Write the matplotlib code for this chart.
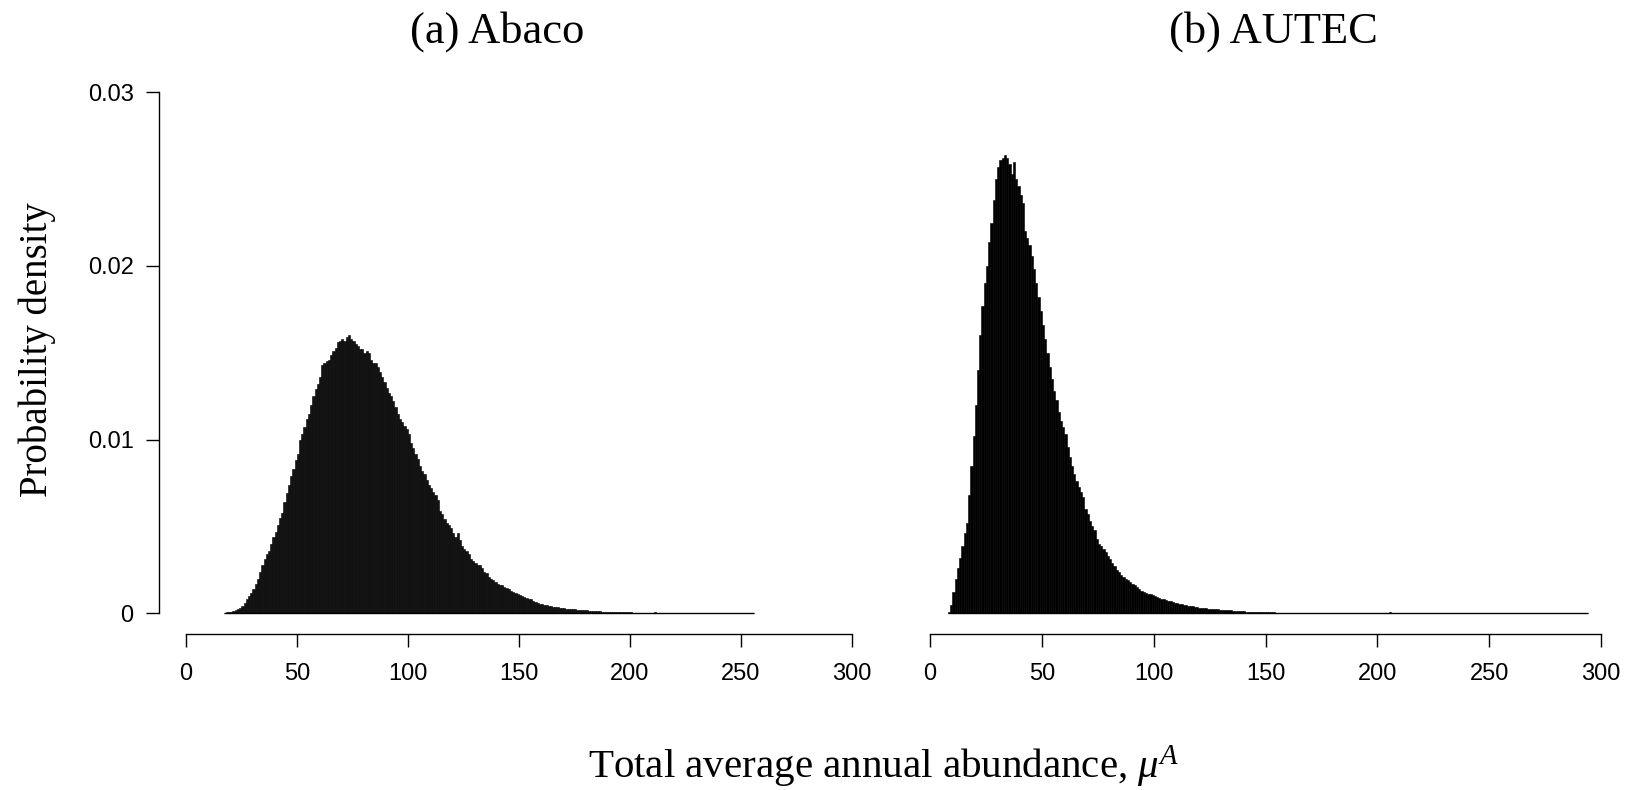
import matplotlib
matplotlib.use("Agg")
import matplotlib.pyplot as plt
import numpy as np

plt.rcParams['mathtext.fontset'] = 'custom'
plt.rcParams['mathtext.rm'] = 'Liberation Serif'
plt.rcParams['mathtext.it'] = 'Liberation Serif:italic'

# histogram bins are 1 unit wide, densities given in units of 1e-4
abaco_start = 17
abaco_dens = [
    0.3, 0.5, 0.8, 1.0, 1.3, 1.7, 2.2, 3.0, 4.2, 6,          # 17
    8, 10, 11.5, 14, 17, 20, 24, 28, 31, 34,                # 27
    36, 40, 44, 47, 51, 55, 58, 64, 69, 74,                 # 37
    79, 83, 88, 92, 100, 103, 107, 112, 115, 120,           # 47
    125, 129, 132, 136, 143, 144, 145, 146, 149, 151,       # 57
    153, 156, 157, 158, 157, 159, 160, 158, 157, 155,       # 67
    154, 152, 152, 150, 151, 150, 146, 144, 144, 142,       # 77
    139, 136, 133, 130, 127, 125, 122, 119, 115, 112,       # 87
    110, 108, 106, 103, 98, 95, 92, 89, 85, 82,             # 97
    80, 77, 74, 72, 70, 68, 65, 59, 57, 54,                 # 107
    52, 51, 49, 46, 44, 46, 42, 39, 37, 36,                 # 117
    34, 31, 30, 29, 28, 28, 26, 24, 23, 21,                 # 127
    20, 19, 18, 17, 16.5, 16, 15, 14.5, 14, 13,             # 137
    12, 11.5, 11, 10.5, 10, 9.5, 9, 8.5, 8, 7,              # 147
    6.5, 6, 5.5, 5.2, 5, 4.6, 4.3, 4, 3.8, 3.6,             # 157
    3.4, 3.2, 3, 2.9, 2.7, 2.5, 2.4, 2.3, 2.2, 2,           # 167
    1.9, 1.8, 1.7, 1.6, 1.5, 1.4, 1.3, 1.2, 1.2, 1.1,       # 177
    1, 1, 0.9, 0.9, 0.8, 0.8, 0.7, 0.7, 0.6, 0.6,           # 187
    0.6, 0.5, 0.5, 0.5, 0.4, 0.4, 0.4, 0.4, 0.3, 0.3,       # 197
    0.3, 0.3, 0.2, 0.2, 1.0, 0.2, 0.2, 0.2, 0.1, 0.1,       # 207
    0.1, 0.1, 0.1, 0.1, 0.1, 0.1, 0.1, 0.1, 0.1, 0.1,       # 217
    0.1, 0.1, 0.1, 0.05, 0.05, 0.05, 0.05, 0.05, 0.05, 0.05,  # 227
    0.05, 0, 0.05, 0, 0, 0.05, 0, 0, 0, 0,                  # 237
    0, 0, 0, 0, 0, 0, 0, 0, 0.05,                           # 247
]

autec_start = 8
autec_dens = [
    1, 5, 12, 20, 26, 32, 39, 46, 52, 68,                   # 8
    85, 102, 120, 140, 160, 177, 190, 200, 214, 225,        # 18
    238, 250, 257, 261, 262, 264, 262, 259, 253, 260,       # 28
    250, 246, 241, 236, 220, 216, 212, 206, 198, 190,       # 38
    182, 174, 166, 158, 150, 142, 135, 128, 123, 116,       # 48
    111, 107, 103, 96, 90, 85, 80, 76, 73, 70,              # 58
    67, 60, 57, 53, 50, 48, 43, 40, 39, 37,                 # 68
    35, 33, 31, 29, 27, 25, 24, 22, 21, 20,                 # 78
    19, 18, 17, 16, 15, 14, 13, 12, 11.5, 11,               # 88
    11, 10.5, 10, 9.5, 9, 8.5, 8, 7.7, 7.2, 6.8,            # 98
    6.4, 6, 5.8, 5.5, 5.2, 5, 4.7, 4.4, 4.2, 4,             # 108
    3.7, 3.5, 3.2, 3, 2.9, 2.8, 2.7, 2.5, 2.4, 2.3,         # 118
    2.2, 2.1, 2, 1.9, 1.8, 1.7, 1.6, 1.5, 1.4, 1.3,         # 128
    1.2, 1.2, 1.1, 1.0, 0.9, 0.8, 0.8, 0.7, 0.7, 0.6,       # 138
    0.6, 0.6, 0.5, 0.5, 0.5, 0.5, 0.4, 0.4, 0.4, 0.4,       # 148
    0.3, 0.3, 0.3, 0.3, 0.3, 0.3, 0.2, 0.2, 0.2, 0.4,       # 158
    0.1, 0.1, 0.4, 0.1, 0.1, 0.3, 0.1, 0.1, 0.1, 0.1,       # 168
    0.3, 0.1, 0.1, 0.1, 0.3, 0.1, 0.1, 0.1, 0.3, 0.1,       # 178
    0.1, 0.3, 0.1, 0.05, 0.05, 0.05, 0.05, 0.05, 0.05, 0.05,  # 188
    0.05, 0.05, 0.05, 0.05, 0.05, 0.05, 0.05, 0.5, 0.05, 0,   # 198
    0, 0, 0, 0, 0, 0, 0, 0, 0, 0,                           # 208
    0, 0, 0, 0, 0, 0, 0, 0, 0, 0,                           # 218
    0, 0, 0, 0, 0, 0, 0, 0, 0, 0,                           # 228
    0, 0, 0, 0, 0, 0, 0, 0, 0, 0,                           # 238
    0, 0, 0, 0, 0, 0, 0, 0, 0, 0,                           # 248
    0, 0, 0, 0, 0, 0, 0, 0, 0, 0,                           # 258
    0, 0, 0, 0, 0, 0, 0, 0, 0, 0,                           # 268
    0, 0, 0, 0, 0, 0, 0, 0, 0, 0,                           # 278
    0, 0, 0, 0, 0, 0,                                       # 288
]

xticks = [0, 50, 100, 150, 200, 250, 300]
yticks = [0, 0.01, 0.02, 0.03]
ytick_labels = ["0", "0.01", "0.02", "0.03"]
titles = ["(a) Abaco", "(b) AUTEC"]


def histo(ax, start, dens, face):
    edges = np.arange(start, start + len(dens) + 1)
    heights = np.array(dens) * 1e-4
    ax.bar(edges[:-1], heights, width=1, align="edge", color=face,
           edgecolor="black", linewidth=0.4)
    ax.hlines(0, edges[0], edges[-1], color="black", linewidth=1.0)


def style(ax, show_y):
    ax.set_xlim(-12, 312)
    ax.set_ylim(-0.0012, 0.0312)
    ax.spines["top"].set_visible(False)
    ax.spines["right"].set_visible(False)
    ax.spines["bottom"].set_bounds(0, 300)
    ax.spines["bottom"].set_linewidth(1.0)
    ax.set_xticks(xticks)
    ax.set_xticklabels([str(t) for t in xticks])
    ax.tick_params(axis="x", direction="out", length=9.5, width=1.0,
                   labelsize=17, pad=11)
    if show_y:
        ax.spines["left"].set_bounds(0, 0.03)
        ax.spines["left"].set_linewidth(1.0)
        ax.set_yticks(yticks)
        ax.set_yticklabels(ytick_labels)
        ax.tick_params(axis="y", direction="out", length=9.5, width=1.0,
                       labelsize=17, pad=9)
    else:
        ax.spines["left"].set_visible(False)
        ax.set_yticks([])
    for lab in ax.get_xticklabels() + ax.get_yticklabels():
        lab.set_family(["Liberation Sans", "DejaVu Sans"])


W, H = 1629, 790
fig = plt.figure(figsize=(W / 100, H / 100), dpi=100)
bot = 1 - 634.1 / H
hgt = (634.1 - 71.5) / H
ax1 = fig.add_axes([159.2 / W, bot, (878.3 - 159.2) / W, hgt])
ax2 = fig.add_axes([903.2 / W, bot, (1628 - 903.2) / W, hgt])

histo(ax1, abaco_start, abaco_dens, "#141414")
histo(ax2, autec_start, autec_dens, "black")
style(ax1, True)
style(ax2, False)

serif = ["Liberation Serif", "DejaVu Serif"]
fig.text(497 / W, 1 - 32 / H, titles[0], ha="center", va="center",
         fontsize=32, family=serif)
fig.text(1273 / W, 1 - 32 / H, titles[1], ha="center", va="center",
         fontsize=32, family=serif)
fig.text(37 / W, 1 - 350 / H, "Probability density", rotation=90,
         ha="center", va="center", fontsize=28, family=serif)
fig.text(588 / W, 1 - 778 / H, r"Total average annual abundance, $\mu^A$",
         ha="left", va="baseline", fontsize=29.5, family=serif)

fig.savefig("out.png", dpi=100)
